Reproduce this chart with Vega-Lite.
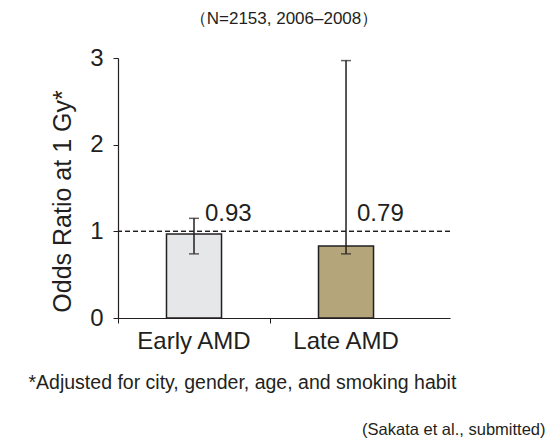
{
 "$schema": "https://vega.github.io/schema/vega-lite/v6.json",
 "width": 332, "height": 260,
 "autosize": {"type": "none"},
 "padding": {"left": 118, "top": 58, "right": 109, "bottom": 128},
 "background": "white",
 "title": {"text": "（N=2153, 2006–2008）", "fontSize": 17, "font": "Liberation Sans", "fontWeight": "normal", "color": "#231f20", "anchor": "middle", "offset": 18},
 "config": {"view": {"stroke": null}, "font": "Liberation Sans"},
 "data": {"values": [
   {"group": "Early AMD", "or": 0.97, "lo": 0.74, "hi": 1.15, "label": "0.93"},
   {"group": "Late AMD", "or": 0.83, "lo": 0.74, "hi": 2.97, "label": "0.79"}
 ]},
 "layer": [
  {"layer": [
    {"mark": {"type": "bar", "stroke": "#231f20", "strokeWidth": 1.5, "width": {"band": 0.362}},
     "encoding": {
       "x": {"field": "group", "type": "nominal", "sort": null, "title": "*Adjusted for city, gender, age, and smoking habit",
             "scale": {"paddingInner": 0, "paddingOuter": 0.092, "align": 0},
             "axis": {"labelAngle": 0, "labelFontSize": 24, "labelColor": "#231f20", "labelPadding": 6, "bandPosition": 0, "tickExtra": false, "tickSize": 5, "tickColor": "#231f20", "domainColor": "#231f20", "domainWidth": 1.2,
                      "titleX": -90, "titleY": 70, "titleAlign": "left", "titleBaseline": "alphabetic", "titleFontSize": 19.5, "titleFontWeight": "normal", "titleColor": "#231f20"}},
       "y": {"field": "or", "type": "quantitative", "title": "Odds Ratio at 1 Gy*", "scale": {"domain": [0, 3]},
             "axis": {"values": [0, 0.5, 1, 1.5, 2, 2.5, 3], "format": "d", "labelExpr": "datum.value % 1 === 0 ? datum.label : ''", "grid": false, "tickSize": 5, "tickColor": "#231f20", "domainColor": "#231f20", "domainWidth": 1.2, "labelFontSize": 24, "labelColor": "#231f20", "labelPadding": 10, "titleFontSize": 25, "titleFontWeight": "normal", "titleColor": "#231f20", "titleX": -48, "titleY": 143, "titleBaseline": "alphabetic", "titleAlign": "center"}},
       "color": {"field": "group", "type": "nominal", "scale": {"range": ["#e6e7e8", "#b4a57b"]}, "legend": null}
     }},
    {"mark": {"type": "errorbar", "ticks": {"size": 10, "thickness": 1.5, "color": "#231f20"}, "rule": {"strokeWidth": 1.5, "color": "#231f20"}},
     "encoding": {"x": {"field": "group", "type": "nominal", "sort": null}, "y": {"field": "lo", "type": "quantitative", "title": "Odds Ratio at 1 Gy*"}, "y2": {"field": "hi"}}},
    {"mark": {"type": "text", "align": "left", "baseline": "alphabetic", "dx": 11, "fontSize": 24, "color": "#231f20"},
     "encoding": {"x": {"field": "group", "type": "nominal", "sort": null}, "y": {"datum": 1.12, "type": "quantitative", "title": "Odds Ratio at 1 Gy*"}, "text": {"field": "label"}}}
  ]},
  {"mark": {"type": "rule", "strokeDash": [5, 3], "strokeWidth": 1.2, "color": "#231f20"},
   "encoding": {"y": {"datum": 1, "type": "quantitative", "scale": {"domain": [0, 3]},
     "axis": {"orient": "right", "domain": false, "ticks": false, "labels": false, "grid": false, "title": "(Sakata et al., submitted)", "titleAngle": 0, "titleX": 95, "titleY": 376, "titleAlign": "right", "titleBaseline": "alphabetic", "titleFontSize": 16.5, "titleFontWeight": "normal", "titleColor": "#231f20"}}}}
 ],
 "resolve": {"scale": {"y": "independent"}}
}
